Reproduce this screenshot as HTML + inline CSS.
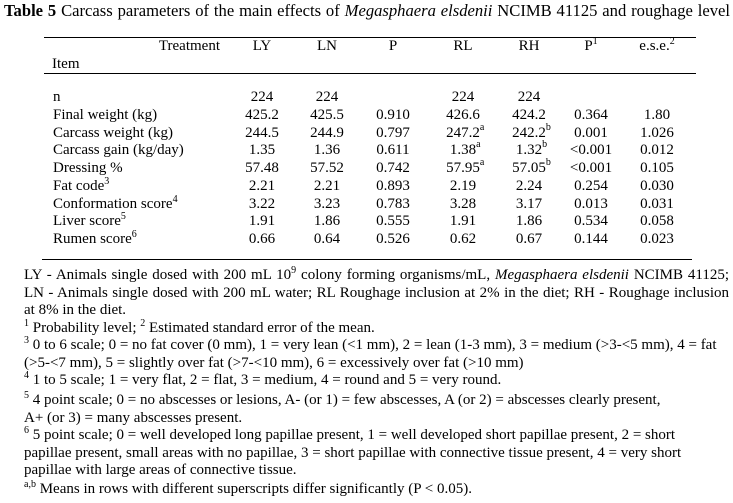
<!DOCTYPE html>
<html><head><meta charset="utf-8"><style>
body{margin:0;background:#fff;width:733px;height:503px;position:relative;overflow:hidden;font-family:"Liberation Serif",serif;font-size:15px;color:#000}
div{position:absolute;white-space:nowrap;line-height:1}
.c{transform:translateX(-50%)}
sup{font-size:10px;vertical-align:6px;line-height:0}
.rule{height:0;border-top:1px solid #000}
.fn{left:24px;white-space:nowrap}
.j{width:705px;text-align:justify;text-align-last:justify;white-space:normal}
.sp{position:absolute;left:100%;top:-3px;font-size:10px}
</style></head><body>
<div style="left:4px;top:3px;width:726px;font-size:16.6px;text-align:justify;text-align-last:justify;white-space:normal"><b>Table 5</b> Carcass parameters of the main effects of <i>Megasphaera elsdenii</i> NCIMB 41125 and roughage level</div>
<div class="rule" style="left:44px;top:37px;width:652px"></div>
<div style="left:158px;top:39px;width:62px;text-align:right">Treatment</div>
<div style="left:52px;top:57px">Item</div>
<div class="rule" style="left:44px;top:73px;width:652px"></div>
<div class="rule" style="left:42px;top:259px;width:650px"></div>
<div id="tbl" style="left:0;top:0"></div>
<div style="left:0;top:0">
<div class="fn j" style="top:268px">LY - Animals single dosed with 200 mL 10<sup>9</sup> colony forming organisms/mL, <i>Megasphaera elsdenii</i> NCIMB 41125;</div>
<div class="fn j" style="top:285.5px">LN - Animals single dosed with 200 mL water; RL Roughage inclusion at 2% in the diet; RH - Roughage inclusion</div>
<div class="fn" style="top:303px">at 8% in the diet.</div>
<div class="fn" style="top:320.5px"><sup>1</sup> Probability level; <sup>2</sup> Estimated standard error of the mean.</div>
<div class="fn" style="top:338px"><sup>3</sup> 0 to 6 scale; 0 = no fat cover (0 mm), 1 = very lean (&lt;1 mm), 2 = lean (1-3 mm), 3 = medium (&gt;3-&lt;5 mm), 4 = fat</div>
<div class="fn" style="top:355.5px">(&gt;5-&lt;7 mm), 5 = slightly over fat (&gt;7-&lt;10 mm), 6 = excessively over fat (&gt;10 mm)</div>
<div class="fn" style="top:373px"><sup>4</sup> 1 to 5 scale; 1 = very flat, 2 = flat, 3 = medium, 4 = round and 5 = very round.</div>
<div class="fn" style="top:393px"><sup>5</sup> 4 point scale; 0 = no abscesses or lesions, A- (or 1) = few abscesses, A (or 2) = abscesses clearly present,</div>
<div class="fn" style="top:410.5px">A+ (or 3) = many abscesses present.</div>
<div class="fn" style="top:428px"><sup>6</sup> 5 point scale; 0 = well developed long papillae present, 1 = well developed short papillae present, 2 = short</div>
<div class="fn" style="top:445.5px">papillae present, small areas with no papillae, 3 = short papillae with connective tissue present, 4 = very short</div>
<div class="fn" style="top:463px">papillae with large areas of connective tissue.</div>
<div class="fn" style="top:482px"><sup>a,b</sup> Means in rows with different superscripts differ significantly (P &lt; 0.05).</div>
</div>
<script>
const headers=["LY","LN","P","RL","RH","P<sup>1</sup>","e.s.e.<sup>2</sup>"];
const rowLabels=["n","Final weight (kg)","Carcass weight (kg)","Carcass gain (kg/day)","Dressing %","Fat code<sup>3</sup>","Conformation score<sup>4</sup>","Liver score<sup>5</sup>","Rumen score<sup>6</sup>"];
const cells=[
["224","224","","224","224","",""],
["425.2","425.5","0.910","426.6","424.2","0.364","1.80"],
["244.5","244.9","0.797","247.2|a","242.2|b","0.001","1.026"],
["1.35","1.36","0.611","1.38|a","1.32|b","&lt;0.001","0.012"],
["57.48","57.52","0.742","57.95|a","57.05|b","&lt;0.001","0.105"],
["2.21","2.21","0.893","2.19","2.24","0.254","0.030"],
["3.22","3.23","0.783","3.28","3.17","0.013","0.031"],
["1.91","1.86","0.555","1.91","1.86","0.534","0.058"],
["0.66","0.64","0.526","0.62","0.67","0.144","0.023"]];
const colX=[262,327,393,463,529,591,657];
const t=document.getElementById('tbl');
headers.forEach((h,i)=>{const d=document.createElement('div');d.className='c';d.style.left=colX[i]+'px';d.style.top='39px';d.innerHTML=h;


t.appendChild(d);});
rowLabels.forEach((l,r)=>{const y=90+r*17.75;const d=document.createElement('div');d.style.left='53px';d.style.top=y+'px';d.innerHTML=l;


t.appendChild(d);
cells[r].forEach((v,i)=>{if(!v)return;const p=v.split('|');const e=document.createElement('div');e.className='c';e.style.left=colX[i]+'px';e.style.top=y+'px';e.innerHTML=p[0]+(p[1]?'<span class="sp">'+p[1]+'</span>':'');


t.appendChild(e);});});
</script>
</body></html>
